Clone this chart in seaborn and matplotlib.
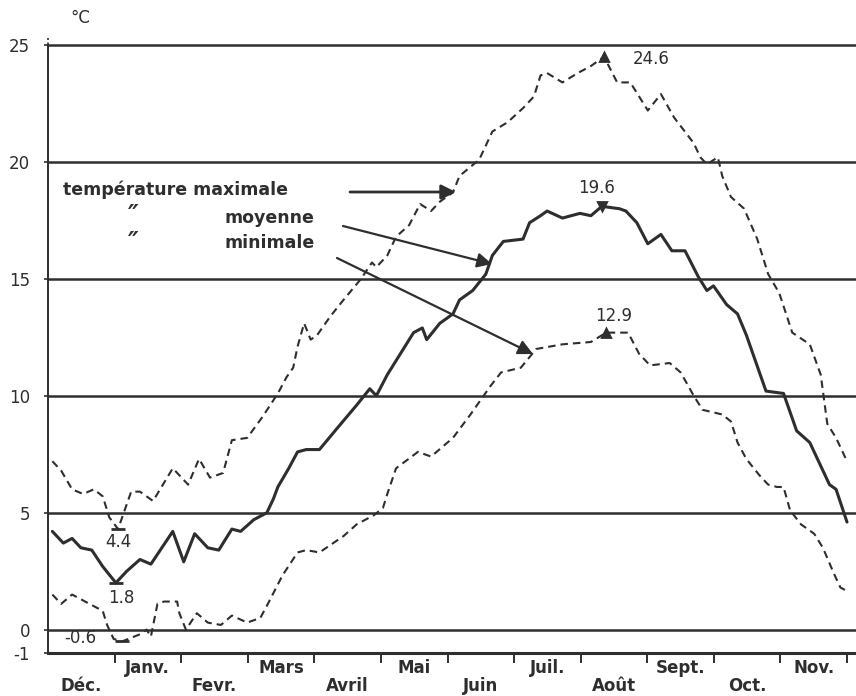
import numpy as np
import pandas as pd
import matplotlib
matplotlib.use("Agg")
import matplotlib.pyplot as plt
import seaborn as sns

# ---------------- data (days counted from 1 December) ----------------
months = ["Déc.", "Janv.", "Fevr.", "Mars", "Avril", "Mai", "Juin",
          "Juil.", "Août", "Sept.", "Oct.", "Nov."]
y_ticks = [-1, 0, 5, 10, 15, 20, 25]
y_tick_labels = ["-1", "0", "5", "10", "15", "20", "25"]

mean_day = [2, 7, 11, 15, 20, 25, 31, 36, 42, 47, 57, 62, 67, 73, 78, 84, 88, 94, 100, 103,
            105, 110, 114, 118, 124, 132, 141, 147, 150, 155, 161, 167, 171, 173, 179, 185, 188, 194, 200, 203,
            208, 217, 220, 225, 228, 235, 243, 248, 253, 261, 264, 269, 274, 280, 285, 291, 297, 301, 304, 310,
            315, 319, 328, 336, 342, 348, 354, 357, 360, 365]
mean_t = [4.2, 3.7, 3.9, 3.5, 3.4, 2.7, 2.0, 2.5, 3.0, 2.8, 4.2, 2.9, 4.1, 3.5, 3.4, 4.3, 4.2, 4.7, 5.0, 5.6,
          6.1, 6.9, 7.6, 7.7, 7.7, 8.6, 9.6, 10.3, 10.0, 10.9, 11.8, 12.7, 12.9, 12.4, 13.1, 13.5, 14.1, 14.5, 15.2, 16.0,
          16.6, 16.7, 17.4, 17.7, 17.9, 17.6, 17.8, 17.7, 18.1, 18.0, 17.9, 17.4, 16.5, 16.9, 16.2, 16.2, 15.1, 14.5, 14.7, 13.9,
          13.5, 12.6, 10.2, 10.1, 8.5, 8.0, 6.8, 6.2, 6.0, 4.6]

max_day = [2, 6, 11, 16, 21, 25, 28, 32, 35, 38, 42, 48, 57, 64, 69, 74, 80, 84, 91, 98,
           105, 109, 112, 114, 117, 120, 123, 129, 135, 143, 148, 150, 155, 159, 165, 170, 175, 179, 185, 188,
           197, 203, 210, 217, 222, 225, 228, 235, 242, 248, 254, 260, 266, 274, 280, 286, 295, 298, 301, 306,
           308, 312, 318, 324, 329, 334, 340, 348, 353, 356, 360, 365]
max_t = [7.2, 6.8, 6.0, 5.8, 6.0, 5.7, 4.8, 4.3, 5.1, 5.9, 5.9, 5.5, 6.9, 6.2, 7.3, 6.5, 6.7, 8.1, 8.2, 9.1,
         10.1, 10.8, 11.2, 12.1, 13.1, 12.4, 12.6, 13.4, 14.1, 15.0, 15.7, 15.5, 16.0, 16.8, 17.3, 18.2, 17.9, 18.3, 18.7, 19.4,
         20.1, 21.3, 21.7, 22.3, 22.8, 23.7, 23.8, 23.4, 23.8, 24.1, 24.5, 23.4, 23.4, 22.2, 22.9, 21.9, 20.8, 20.2, 19.9, 20.2,
         19.4, 18.5, 18.0, 16.7, 15.2, 14.4, 12.7, 12.2, 10.9, 8.8, 8.2, 7.2]

min_day = [2, 6, 11, 19, 25, 27, 30, 34, 42, 45, 47, 50, 53, 59, 60, 63, 68, 73, 79, 84,
           91, 97, 101, 107, 114, 118, 124, 135, 141, 149, 153, 155, 159, 169, 175, 185, 193, 202, 207, 216,
           223, 235, 248, 255, 265, 270, 275, 284, 289, 295, 299, 308, 312, 315, 319, 325, 329, 333, 336, 339,
           344, 350, 354, 359, 362, 366]
min_t = [1.5, 1.1, 1.5, 1.1, 0.8, 0.2, -0.4, -0.5, -0.2, 0.0, -0.3, 1.1, 1.2, 1.2, 0.7, 0.0, 0.7, 0.3, 0.2, 0.6,
         0.3, 0.5, 1.2, 2.3, 3.3, 3.4, 3.3, 4.0, 4.5, 4.9, 5.2, 5.8, 6.9, 7.6, 7.4, 8.2, 9.2, 10.4, 11.0, 11.2,
         12.0, 12.2, 12.3, 12.7, 12.7, 11.8, 11.3, 11.4, 11.0, 10.0, 9.4, 9.2, 8.9, 8.0, 7.3, 6.6, 6.2, 6.1, 6.1, 5.1,
         4.5, 4.1, 3.5, 2.4, 1.8, 1.6]

extreme_labels = ["24.6", "19.6", "12.9", "4.4", "1.8", "-0.6"]
legend_words = ["température maximale", "moyenne", "minimale"]

# ---------------- style ----------------
sns.set_theme(style="white")
plt.rcParams['font.family'] = ['DejaVu Sans']
ink = "#2e2e2e"

W, H = 856, 696
fig = plt.figure(figsize=(W / 100, H / 100), dpi=100)
fig.patch.set_facecolor("white")
ax = fig.add_axes([48 / W, 43 / H, (W - 48) / W, 615 / H])
ax.set_facecolor("white")

px_per_deg = (653 - 45) / 26.0
ax.set_xlim(0, (W - 48) / 799 * 365)
ax.set_ylim(-1, 25 + 7 / px_per_deg)

# horizontal reference lines
for v in y_ticks[1:]:
    ax.axhline(v, color=ink, lw=1.8, zorder=1)

df_max = pd.DataFrame({"day": max_day, "t": max_t})
df_mean = pd.DataFrame({"day": mean_day, "t": mean_t})
df_min = pd.DataFrame({"day": min_day, "t": min_t})

sns.lineplot(data=df_max, x="day", y="t", ax=ax, color=ink, lw=1.5, sort=False, legend=False, zorder=3)
ax.lines[-1].set_dashes([3.6, 2.4])
sns.lineplot(data=df_mean, x="day", y="t", ax=ax, color=ink, lw=2.2, sort=False, legend=False, zorder=3)
sns.lineplot(data=df_min, x="day", y="t", ax=ax, color=ink, lw=1.5, sort=False, legend=False, zorder=3)
ax.lines[-1].set_dashes([3.6, 2.4])
ax.set_xlabel("")
ax.set_ylabel("")

# spines
for s in ["top", "right"]:
    ax.spines[s].set_visible(False)
ax.spines["left"].set_bounds(-1, 25)
ax.spines["left"].set_color(ink)
ax.spines["left"].set_linewidth(1.4)
ax.spines["bottom"].set_color(ink)
ax.spines["bottom"].set_linewidth(2.2)
ax.plot([0, 0], [25, 25 + 7 / px_per_deg], color=ink, lw=1.2, ls=(0, (1.5, 1.5)), clip_on=False)

# y ticks
ax.set_yticks(y_ticks)
ax.set_yticklabels(y_tick_labels, fontsize=12, color=ink)
ax.tick_params(axis="y", left=True, length=3, width=1.2, color=ink, pad=10, direction="out")

# month ticks and labels
mlen = 365 / 12
ax.set_xticks([mlen * i for i in range(1, 13)])
ax.set_xticklabels([])
ax.tick_params(axis="x", bottom=True, length=7, width=1.4, color=ink, direction="out")
for i, m in enumerate(months):
    dy = -15 if i % 2 == 1 else -33
    ax.annotate(m, xy=(mlen * (i + 0.5), -1), xycoords="data",
                xytext=(0, dy), textcoords="offset pixels",
                ha="center", va="center", fontsize=12, fontweight="bold",
                color=ink, annotation_clip=False)

fig.text(70 / W, 1 - 18 / H, "°C", fontsize=12, color=ink, ha="left", va="center")

# extreme value markers and labels
i_max = int(np.argmax(max_t))
i_mean = int(np.argmax(mean_t))
i_min = int(np.argmax(min_t))
i_maxlow = int(np.argmin(max_t[:20]))
i_meanlow = int(np.argmin(mean_t[:20]))
i_minlow = int(np.argmin(min_t[:20]))

marks = [
    (max_day[i_max], max_t[i_max], "^", (29, -2), "left"),
    (mean_day[i_mean], mean_t[i_mean], "v", (-5, 18), "center"),
    (min_day[i_min], min_t[i_min], "^", (7, 17), "center"),
    (max_day[i_maxlow], max_t[i_maxlow], "_", (0, -13), "center"),
    (mean_day[i_meanlow], mean_t[i_meanlow], "_", (5, -15), "center"),
    (min_day[i_minlow], min_t[i_minlow], "_", (-42, 3), "center"),
]
for (xd, yd, mk, off, ha), lab in zip(marks, extreme_labels):
    ax.plot([xd], [yd], marker=mk, ms=6 if mk != "_" else 10, mew=2, color=ink, zorder=4)
    ax.annotate(lab, xy=(xd, yd), xytext=off, textcoords="offset pixels",
                ha=ha, va="center", fontsize=12, color=ink)

# legend text with arrows
fig.text(63 / W, 1 - 190 / H, legend_words[0], fontsize=12.5, fontweight="bold",
         color=ink, ha="left", va="center")
fig.text(128 / W, 1 - 215 / H, "\u2033", fontsize=17, fontweight="bold",
         color=ink, ha="left", va="center", style="italic")
fig.text(225 / W, 1 - 218 / H, legend_words[1], fontsize=12.5, fontweight="bold",
         color=ink, ha="left", va="center")
fig.text(128 / W, 1 - 242 / H, "\u2033", fontsize=17, fontweight="bold",
         color=ink, ha="left", va="center", style="italic")
fig.text(225 / W, 1 - 243 / H, legend_words[2], fontsize=12.5, fontweight="bold",
         color=ink, ha="left", va="center")

arrows = [((350, 192), (456, 192), 2.0), ((343, 226), (492, 264), 1.6), ((337, 258), (533, 354), 1.6)]
for (x0, y0), (x1, y1), lw in arrows:
    ax.annotate("", xy=(x1, H - y1), xycoords="figure pixels",
                xytext=(x0, H - y0), textcoords="figure pixels",
                arrowprops=dict(arrowstyle="-|>", color=ink, lw=lw, mutation_scale=22,
                                shrinkA=0, shrinkB=0))

fig.savefig("out.png", dpi=100, facecolor="white")
